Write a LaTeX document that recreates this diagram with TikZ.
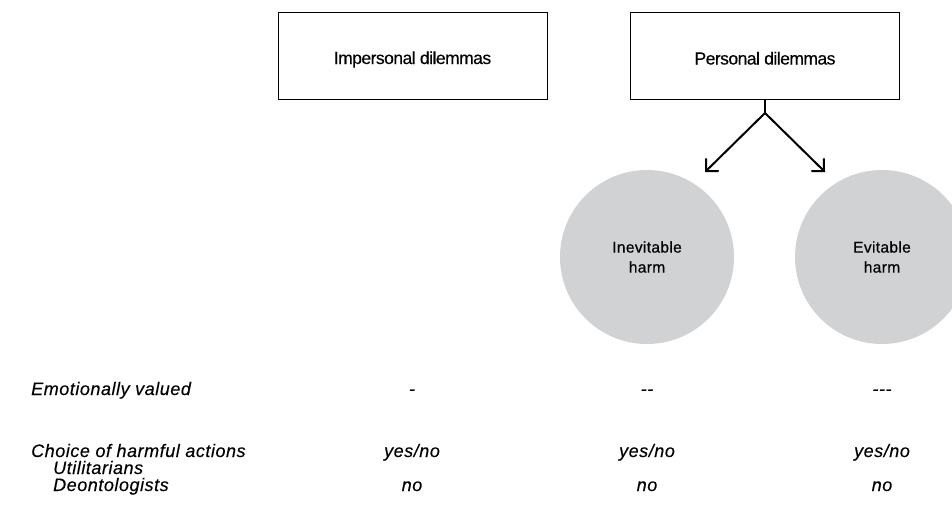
\documentclass[tikz,border=0pt]{standalone}
\usepackage{fontspec}
\setmainfont{Liberation Sans}
\newfontfamily\boxfont[LetterSpace=-3,FakeBold=0.4]{Liberation Sans}
\newfontfamily\rowfont[LetterSpace=3,FakeBold=0.25]{Liberation Sans}
\newfontfamily\harmfont[LetterSpace=2,FakeBold=0.5]{Liberation Sans}
\usetikzlibrary{arrows.meta}
\definecolor{harmgray}{RGB}{209,210,212}
\tikzset{ box_style/.style = { rectangle % dilemma box
        , draw
        , line width = 1pt
        , minimum width = 269pt
        , minimum height = 87pt
        , text height = 17pt
        , text depth = 0pt
        , font = \boxfont\fontsize{17.5}{20}\selectfont
        }
        , harm_style/.style = { circle % harm type
        , fill = harmgray
        , minimum size = 174pt
        , align = center
        , font = \harmfont\fontsize{15.6}{20}\selectfont
        }
        , row_style/.style = { anchor = base west % row title
        , inner sep = 0pt
        , font = \rowfont\itshape\fontsize{18}{20}\selectfont
        }
        , cell_style/.style = { anchor = base % table value
        , inner sep = 0pt
        , font = \rowfont\itshape\fontsize{18}{20}\selectfont
        }
        }

\begin{document}
\begin{tikzpicture}[x=1pt, y=-1pt,
        edge_style/.style={draw=black, line width=2pt, -{Straight Barb[length=9pt, width=18pt]}}]
        \useasboundingbox (0,0) rectangle (952,506);

        \node [box_style] (imp) at (412.5,55.5) {Impersonal dilemmas};
        \node [box_style] (pers) at (765,56) {Personal dilemmas};
        \node [harm_style] (inev) at (647,257) {Inevitable\\harm};
        \node [harm_style] (evit) at (882,257) {Evitable\\harm};

        \coordinate (split) at (765,113);
        \coordinate (tip1) at (705,172);
        \coordinate (tip2) at (825,172);
        \draw [line width=2pt] (pers.south) -- (split);
        \draw [edge_style] (split) -- (tip1);
        \draw [edge_style] (split) -- (tip2);

        \node [row_style] (r1) at (31,395) {Emotionally valued};
        \node [row_style] (r2) at (31,457) {Choice of harmful actions};
        \node [row_style] (r3) at (53,474) {Utilitarians};
        \node [row_style] (r4) at (53,491) {Deontologists};

        \node [cell_style] (e1) at (412,395) {-};
        \node [cell_style] (e2) at (647,395) {--};
        \node [cell_style] (e3) at (882,395) {---};
        \node [cell_style] (c1) at (412,457) {yes/no};
        \node [cell_style] (c2) at (647,457) {yes/no};
        \node [cell_style] (c3) at (882,457) {yes/no};
        \node [cell_style] (d1) at (412,491) {no};
        \node [cell_style] (d2) at (647,491) {no};
        \node [cell_style] (d3) at (882,491) {no};
\end{tikzpicture}
\end{document}
